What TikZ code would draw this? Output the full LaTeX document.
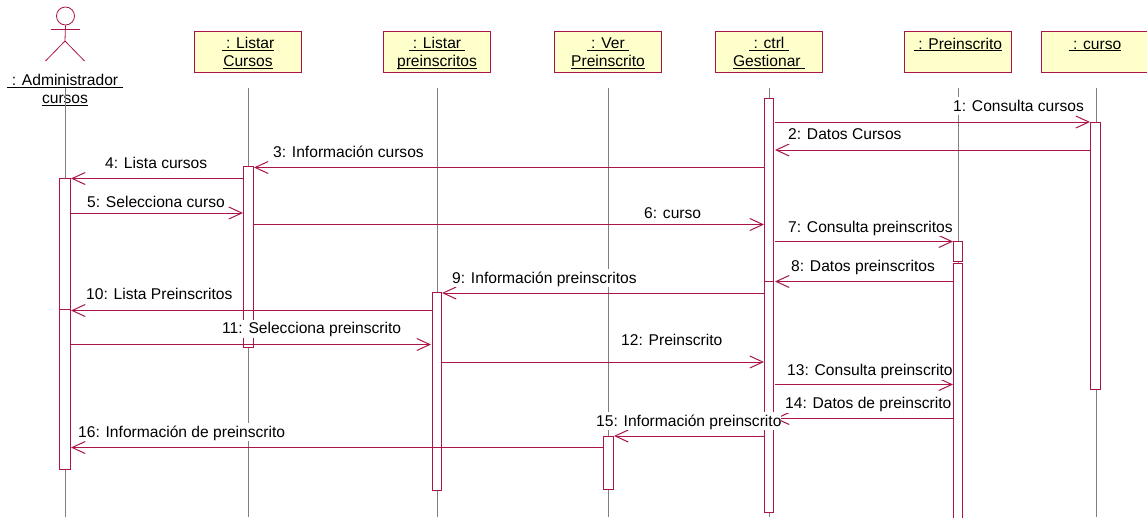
\documentclass[tikz,border=0pt]{standalone}
\usepackage{fontspec}
\setmainfont{Liberation Sans}
\usetikzlibrary{arrows.meta}

\definecolor{TraitColor}{RGB}{170,20,75}
\definecolor{BoiteColor}{RGB}{255,255,204}
\def \Ls {\rule[-1pt]{0pt}{15pt}}
\def \Ul #1{\Ls\underline{\smash{#1}}}

\tikzset{
    boite/.style={draw=TraitColor, fill=BoiteColor, line width=1pt, minimum width=107pt,
        minimum height=41pt, inner sep=0pt, align=center},
    acteur/.style={inner sep=0pt, align=center},
    ligne/.style={color=gray, line width=.8pt},
    barre/.style={draw=TraitColor, fill=white, line width=1pt},
    msg/.style={color=TraitColor, line width=1pt, -{Straight Barb[length=13pt,width=12pt]}},
    texte/.style={anchor=west, fill=white, inner sep=0pt, text height=14pt, text depth=4pt}
}

\begin{document}
\begin{tikzpicture}[x=1pt,y=-1pt,font=\fontsize{15.6}{18}\selectfont]
\useasboundingbox (0,0) rectangle (1147,517);

% objets
\node[boite] (Listar) at (248,51.5) {\Ul{\ : Listar}\\\Ul{Cursos}};
\node[boite] (ListarPre) at (437,51.5) {\Ul{\ : Listar\ }\\\Ul{preinscritos}};
\node[boite] (Ver) at (608,51.5) {\Ul{\ : Ver\ }\\\Ul{Preinscrito}};
\node[boite] (Ctrl) at (769,51.5) {\Ul{\ : ctrl\ }\\\Ul{Gestionar\ }};
\node[boite] (Preinscrito) at (958,51.5) {\Ul{\ : Preinscrito}\\\Ls};
\node[boite] (Curso) at (1095,51.5) {\Ul{\ : curso}\\\Ls};

% acteur
\node[draw=TraitColor, circle, line width=.8pt, minimum size=18pt, inner sep=0pt] (Tete) at (65.5,16) {};
\coordinate (Bassin) at (65,41);
\coordinate (MainG) at (51,29.5);
\coordinate (MainD) at (80,29.5);
\coordinate (PiedG) at (45.5,61);
\coordinate (PiedD) at (84.5,61);
\draw[color=TraitColor, line width=.8pt] (Tete.south) -- (Bassin) -- (PiedG);
\draw[color=TraitColor, line width=.8pt] (Bassin) -- (PiedD);
\draw[color=TraitColor, line width=.8pt] (MainG) -- (MainD);
\node[acteur] (Admin) at (65,88.5) {\Ul{\ : Administrador\ }\\\Ul{cursos}};

% lignes de vie
\foreach \nom/\x in {Admin/65,Listar/248,ListarPre/437,Ver/608,Ctrl/769,Preinscrito/958,Curso/1096}{
    \coordinate (\nom H) at (\x,88);
    \coordinate (\nom B) at (\x,517);
    \draw[ligne] (\nom H) -- (\nom B);
}

% barres d'activation
\foreach \xa/\ya/\xb/\yb in {%
    59.5/178/70/325,59.5/309/70/469,%
    243/166.5/253/347,%
    432/292.5/441.5/490,%
    603/436/613/489,%
    764.5/98/773.5/297,764.5/281/773.5/512,%
    953/241/962.5/261,953/263.5/962.5/530,%
    1090/122/1100/389%
}{
    \draw[barre] (\xa,\ya) rectangle (\xb,\yb);
}

% messages
\foreach \n/\xa/\xb/\y in {%
    1/775/1090/122,2/1090/775/150,3/764/254/167.5,4/243/71/178.5,%
    5/71/243/213,6/254/764/224.5,7/775/953/241.5,8/953/775/281.5,%
    9/764/442/293,10/432/71/310.5,11/71/431/344.5,12/442/764/362,%
    13/775/953/384.5,14/953/775/418.5,15/764/614/436,16/603/71/447.5%
}{
    \coordinate (M\n A) at (\xa,\y);
    \coordinate (M\n B) at (\xb,\y);
    \draw[msg] (M\n A) -- (M\n B);
}

% textes des messages
\foreach \n/\x/\y/\txt in {%
    1/953/106/1: Consulta cursos,
    2/788/134.5/2: Datos Cursos,
    3/273/152/3: Información cursos,
    4/105/163/4: Lista cursos,
    5/87/202.5/5: Selecciona curso,
    6/644/213.5/6: curso,
    7/788/227/7: Consulta preinscritos,
    8/791/266/8: Datos preinscritos,
    9/452/278/9: Información preinscritos,
    10/86/294/10: Lista Preinscritos,
    11/222/328.5/11: Selecciona preinscrito,
    12/621/340/12: Preinscrito,
    13/787/370.5/13: Consulta preinscrito,
    14/785/403.5/14: Datos de preinscrito,
    15/596/421/15: Información preinscrito,
    16/78/432/16: Información de preinscrito%
}{
    \node[texte] (T\n) at (\x,\y) {\txt};
}

\end{tikzpicture}
\end{document}
